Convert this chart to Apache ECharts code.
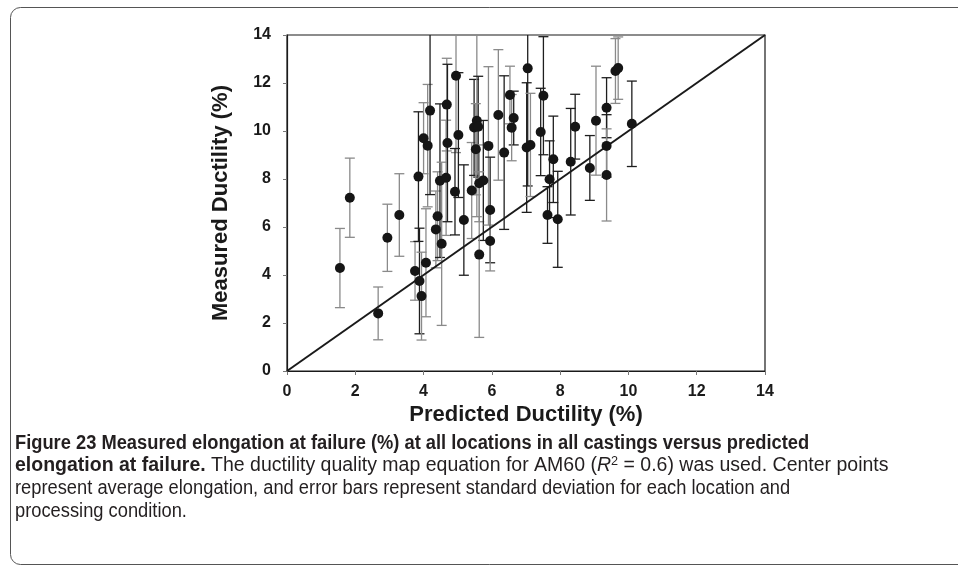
<!DOCTYPE html>
<html>
<head>
<meta charset="utf-8">
<script src="https://cdn.jsdelivr.net/npm/echarts@6/dist/echarts.min.js"></script>
<style>
  html, body { margin: 0; padding: 0; background: #fff; }
  #chart { width: 958px; height: 572px; }
</style>
</head>
<body>
<div id="chart"></div>
<script>
// Predicted ductility (%) for each location / processing condition
const predicted = [1.55, 1.84, 2.67, 2.94, 3.29, 3.75, 3.88, 3.94, 4.07, 3.85,
  4.00, 4.12, 4.19, 4.36, 4.41, 4.48, 4.53, 4.66, 4.68, 4.70,
  4.95, 5.02, 4.92, 5.41, 5.18, 5.48, 5.56, 5.60, 5.53, 5.63,
  5.75, 5.63, 5.90, 5.95, 5.95, 6.19, 6.36, 6.53, 6.64, 6.58,
  7.05, 7.02, 7.13, 7.51, 7.43, 7.69, 7.63, 7.80, 7.93, 8.31,
  8.44, 8.87, 9.05, 9.36, 9.36, 9.36, 9.62, 9.70, 10.10];

// Measured (average) ductility (%)
const measured = [4.29, 7.22, 2.40, 5.55, 6.50, 4.17, 3.75, 3.12, 4.51, 8.10,
  9.70, 9.39, 10.85, 5.90, 6.45, 7.93, 5.30, 8.05, 11.10, 9.50,
  12.30, 9.83, 7.47, 7.52, 6.29, 10.15, 10.43, 10.18, 9.24, 7.82,
  7.94, 4.85, 9.38, 6.71, 5.42, 10.67, 9.10, 11.50, 10.54, 10.14,
  12.61, 9.31, 9.42, 11.47, 9.96, 7.99, 6.50, 8.82, 6.32, 8.72,
  10.18, 8.46, 10.43, 10.97, 9.38, 8.17, 12.50, 12.62, 10.30];

// Standard deviation of measured ductility (%)
const stdev = [1.65, 1.65, 1.10, 1.40, 1.72, 1.22, 2.20, 1.83, 2.25, 2.70,
  1.48, 2.55, 3.50, 1.60, 1.85, 3.20, 3.40, 2.40, 1.93, 3.28,
  3.20, 2.60, 1.80, 2.00, 2.30, 2.00, 4.00, 2.10, 1.90, 1.60,
  2.50, 3.45, 3.30, 2.20, 1.25, 2.72, 3.20, 1.20, 1.12, 1.38,
  4.90, 2.70, 2.15, 2.46, 1.82, 1.60, 1.18, 1.80, 2.00, 2.22,
  1.35, 1.35, 2.27, 1.25, 1.30, 1.92, 1.35, 1.30, 1.78];

// Error bar shade: 1 = grey, 0 = black
const barTone = [1, 1, 1, 1, 1, 1, 0, 1, 1, 0,
  1, 1, 0, 1, 1, 0, 1, 1, 1, 0,
  1, 0, 0, 1, 0, 0, 1, 0, 1, 1,
  0, 1, 1, 0, 1, 1, 0, 1, 0, 1,
  0, 0, 1, 0, 0, 0, 0, 0, 0, 0,
  0, 0, 1, 0, 0, 1, 1, 1, 0];

// Axis ticks
const axisMin = 0, axisMax = 14, axisStep = 2;

// Reference line (measured = predicted)
const parityLine = [[0, 0], [14, 14]];

// Caption lines
const captionLines = [
  '{b|Figure 23 Measured elongation at failure (%) at all locations in all castings versus predicted}',
  '{b|elongation at failure.} The ductility quality map equation for AM60 ({i|R}{s|2} = 0.6) was used. Center points',
  'represent average elongation, and error bars represent standard deviation for each location and',
  'processing condition.'
];
// Horizontal compression per caption line (the second line is set wider)
const captionScale = [0.915, 0.975, 0.915, 0.915];

const points = predicted.map((x, i) => [x, measured[i]]);
const bars = predicted.map((x, i) => [x, measured[i] - stdev[i], measured[i] + stdev[i]]);

const FONT = '"Liberation Sans", Arial, Helvetica, sans-serif';
const CAP_SIZE = 20;

function renderBar(params, api) {
  const x = api.value(0);
  const lo = api.coord([x, api.value(1)]);
  const hi = api.coord([x, api.value(2)]);
  const color = barTone[params.dataIndex] ? '#8a8a8a' : '#1e1e1e';
  const hw = 5;
  const style = { stroke: color, lineWidth: 1.3 };
  return {
    type: 'group',
    children: [
      { type: 'line', shape: { x1: lo[0], y1: lo[1], x2: hi[0], y2: hi[1] }, style },
      { type: 'line', shape: { x1: lo[0] - hw, y1: lo[1], x2: lo[0] + hw, y2: lo[1] }, style },
      { type: 'line', shape: { x1: hi[0] - hw, y1: hi[1], x2: hi[0] + hw, y2: hi[1] }, style }
    ]
  };
}

const captionRich = {
  b: { font: 'bold ' + CAP_SIZE + 'px ' + FONT, fill: '#231f20' },
  i: { font: 'italic ' + CAP_SIZE + 'px ' + FONT, fill: '#231f20' },
  s: { font: '13px ' + FONT, fill: '#231f20', verticalAlign: 'top', padding: [0, 0, 8, 0] }
};

const captionGraphics = captionLines.map((line, k) => ({
  type: 'text', x: 15, y: 443 + k * 22.7, scaleX: captionScale[k], silent: true,
  style: {
    text: line, font: CAP_SIZE + 'px ' + FONT, fill: '#231f20',
    verticalAlign: 'middle', rich: captionRich
  }
}));

const chart = echarts.init(document.getElementById('chart'), null, { renderer: 'canvas' });

chart.setOption({
  animation: false,
  backgroundColor: '#fff',
  grid: {
    left: 287, top: 35, right: 193, bottom: 201,
    show: true, borderColor: '#1a1a1a', borderWidth: 1.2, backgroundColor: 'transparent'
  },
  xAxis: {
    type: 'value', min: axisMin, max: axisMax, interval: axisStep,
    name: 'Predicted Ductility (%)', nameLocation: 'middle', nameGap: 33, nameMoveOverlap: false,
    nameTextStyle: { fontFamily: FONT, fontWeight: 'bold', fontSize: 22, color: '#1a1a1a' },
    axisLine: { show: true, lineStyle: { color: '#1a1a1a', width: 1.2 } },
    axisTick: { show: true, inside: false, length: 4, lineStyle: { color: '#777' } },
    axisLabel: { margin: 13, fontFamily: FONT, fontWeight: 'bold', fontSize: 16, color: '#1a1a1a' },
    splitLine: { show: false }
  },
  yAxis: {
    type: 'value', min: axisMin, max: axisMax, interval: axisStep,
    name: 'Measured Ductility (%)', nameLocation: 'middle', nameGap: 55, nameRotate: 90,
    nameTextStyle: { fontFamily: FONT, fontWeight: 'bold', fontSize: 22, color: '#1a1a1a' },
    axisLine: { show: true, lineStyle: { color: '#1a1a1a', width: 1.2 } },
    axisTick: { show: true, inside: false, length: 4, lineStyle: { color: '#777' } },
    axisLabel: { margin: 16, fontFamily: FONT, fontWeight: 'bold', fontSize: 16, color: '#1a1a1a' },
    splitLine: { show: false }
  },
  series: [
    {
      type: 'custom', name: 'std dev', data: bars, renderItem: renderBar,
      clip: true, z: 2, silent: true
    },
    {
      type: 'line', name: 'parity', data: parityLine, showSymbol: false,
      lineStyle: { color: '#1a1a1a', width: 2 }, z: 3, silent: true
    },
    {
      type: 'scatter', name: 'average', data: points, symbol: 'circle', symbolSize: 10,
      itemStyle: { color: '#151515', opacity: 1 }, z: 4, silent: true
    }
  ],
  graphic: [
    {
      type: 'rect', silent: true,
      shape: { x: 10.5, y: 7.5, width: 990, height: 557, r: 10 },
      style: { fill: 'none', stroke: '#555', lineWidth: 1 }
    }
  ].concat(captionGraphics)
});
</script>
</body>
</html>
